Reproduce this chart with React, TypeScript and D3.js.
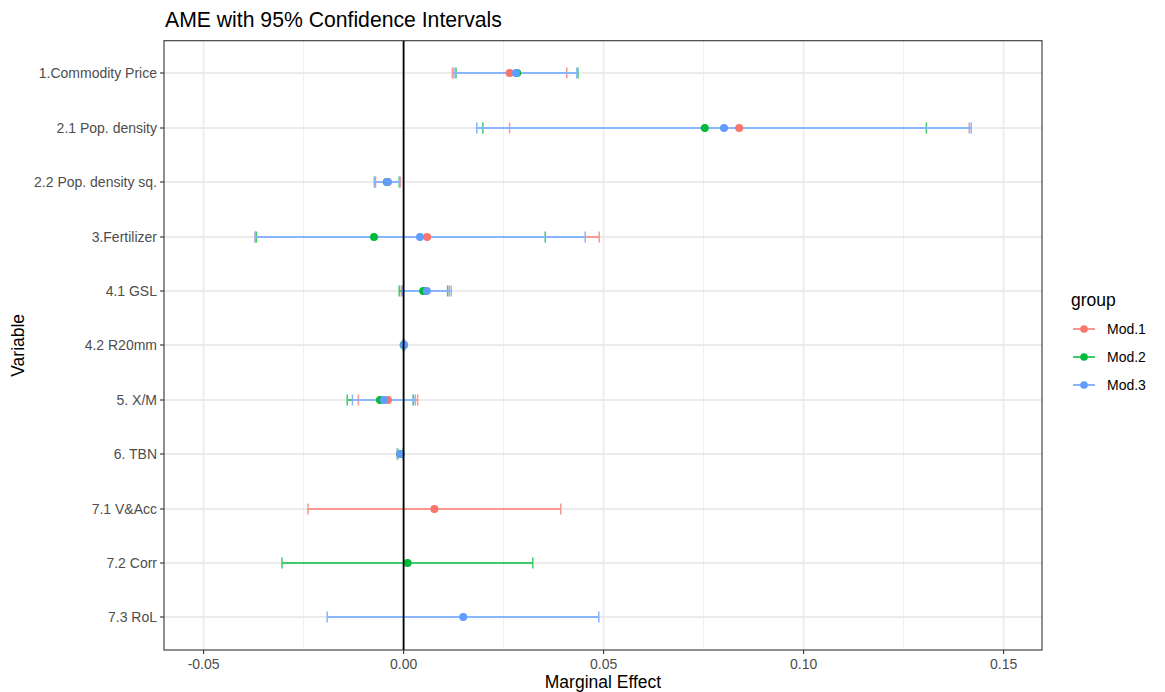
import React from "react";
import * as d3 from "d3";

const categories = [
  "1.Commodity Price",
  "2.1 Pop. density",
  "2.2 Pop. density sq.",
  "3.Fertilizer",
  "4.1 GSL",
  "4.2 R20mm",
  "5. X/M",
  "6. TBN",
  "7.1 V&Acc",
  "7.2 Corr",
  "7.3 RoL",
];

const groups = ["Mod.1", "Mod.2", "Mod.3"];
const groupColors = ["#F8766D", "#00BA38", "#619CFF"];
const barColors = ["#F99790", "#40CB6A", "#89B5FF"];

// estimate, lower, upper per category (null = not in model)
const mod1Est = [0.0265, 0.0839, -0.0039, 0.0059, 0.0054, 0.0001, -0.0039, -0.0008, 0.0077, null, null];
const mod1Lo = [0.0122, 0.0265, -0.007, -0.0371, -0.0006, -0.0001, -0.0113, -0.0015, -0.0239, null, null];
const mod1Hi = [0.0408, 0.1414, -0.0008, 0.0489, 0.0114, 0.0003, 0.0035, -0.0001, 0.0393, null, null];

const mod2Est = [0.0284, 0.0753, -0.0042, -0.0074, 0.0049, 0.0, -0.0059, -0.0008, null, 0.001, null];
const mod2Lo = [0.0131, 0.0198, -0.0073, -0.0368, -0.0011, -0.0002, -0.0141, -0.0015, null, -0.0304, null];
const mod2Hi = [0.0436, 0.1307, -0.0011, 0.0354, 0.011, 0.0002, 0.0024, -0.0001, null, 0.0323, null];

const mod3Est = [0.0281, 0.0801, -0.0041, 0.0041, 0.0058, 0.0001, -0.0049, -0.0008, null, null, 0.0149];
const mod3Lo = [0.0126, 0.0183, -0.0072, -0.0371, -0.0003, -0.0001, -0.0128, -0.0016, null, null, -0.0191];
const mod3Hi = [0.0433, 0.1419, -0.001, 0.0454, 0.0119, 0.0002, 0.0029, -0.0001, null, null, 0.0488];

const xTicks = [-0.05, 0, 0.05, 0.1, 0.15];
const xTickLabels = ["-0.05", "0.00", "0.05", "0.10", "0.15"];
const xMinor = [-0.025, 0.025, 0.075, 0.125];

const W = 1165;
const H = 692;
const panel = { left: 164, right: 1042, top: 40.7, bottom: 650 };
const FONT = "'Liberation Sans', Arial, Helvetica, sans-serif";

export default function App() {
  const x = d3.scaleLinear().domain([-0.0599, 0.1596]).range([panel.left, panel.right]);
  const y = d3
    .scalePoint<string>()
    .domain(categories)
    .range([panel.top, panel.bottom])
    .padding(0.6);
  const ys = (c: string) => Math.round(y(c) as number);

  const series = [
    { est: mod1Est, lo: mod1Lo, hi: mod1Hi },
    { est: mod2Est, lo: mod2Lo, hi: mod2Hi },
    { est: mod3Est, lo: mod3Lo, hi: mod3Hi },
  ];

  const cap = 5.5;

  return (
    <svg
      width={W}
      height={H}
      style={{ position: "absolute", left: 0, top: 0, background: "#fff" }}
      fontFamily={FONT}
    >
      <rect x={0} y={0} width={W} height={H} fill="#fff" />
      {/* grid */}
      {xMinor.map((t) => (
        <line key={"mn" + t} x1={x(t)} x2={x(t)} y1={panel.top} y2={panel.bottom} stroke="#ebebeb" strokeWidth={0.8} />
      ))}
      {xTicks.map((t) => (
        <line key={"mj" + t} x1={x(t)} x2={x(t)} y1={panel.top} y2={panel.bottom} stroke="#ebebeb" strokeWidth={1.6} />
      ))}
      {categories.map((c) => (
        <line key={"hg" + c} x1={panel.left} x2={panel.right} y1={ys(c)} y2={ys(c)} stroke="#ebebeb" strokeWidth={2} />
      ))}

      {/* error bars */}
      {series.map((s, gi) =>
        categories.map((c, i) => {
          if (s.est[i] === null) return null;
          const yy = ys(c);
          const x1 = x(s.lo[i] as number);
          const x2 = x(s.hi[i] as number);
          return (
            <g key={"eb" + gi + "-" + i} stroke={barColors[gi]} strokeWidth={1.5}>
              <line x1={x1} x2={x2} y1={yy} y2={yy} strokeWidth={2} />
              <line x1={x1} x2={x1} y1={yy - cap} y2={yy + cap} />
              <line x1={x2} x2={x2} y1={yy - cap} y2={yy + cap} />
            </g>
          );
        })
      )}

      {/* points */}
      {series.map((s, gi) =>
        categories.map((c, i) => {
          if (s.est[i] === null) return null;
          return <circle key={"pt" + gi + "-" + i} cx={x(s.est[i] as number)} cy={ys(c)} r={4} fill={groupColors[gi]} />;
        })
      )}

      {/* zero line */}
      <line x1={x(0)} x2={x(0)} y1={panel.top} y2={panel.bottom} stroke="#000" strokeWidth={1.8} />

      {/* panel border */}
      <rect
        x={panel.left}
        y={panel.top}
        width={panel.right - panel.left}
        height={panel.bottom - panel.top}
        fill="none"
        stroke="#333333"
        strokeWidth={1.1}
      />

      {/* y axis */}
      {categories.map((c) => (
        <g key={"yl" + c}>
          <line x1={panel.left - 4} x2={panel.left} y1={ys(c)} y2={ys(c)} stroke="#333333" strokeWidth={1.1} />
          <text x={panel.left - 7} y={ys(c) + 5} textAnchor="end" fontSize={14} fill="#4d4d4d">
            {c}
          </text>
        </g>
      ))}

      {/* x axis */}
      {xTicks.map((t, i) => (
        <g key={"xl" + t}>
          <line x1={x(t)} x2={x(t)} y1={panel.bottom} y2={panel.bottom + 4} stroke="#333333" strokeWidth={1.1} />
          <text x={x(t)} y={panel.bottom + 19} textAnchor="middle" fontSize={14} fill="#4d4d4d">
            {xTickLabels[i]}
          </text>
        </g>
      ))}

      <text x={(panel.left + panel.right) / 2} y={688} textAnchor="middle" fontSize={17.5} fill="#000">
        Marginal Effect
      </text>
      <text
        transform={`translate(24, ${(panel.top + panel.bottom) / 2}) rotate(-90)`}
        textAnchor="middle"
        fontSize={17.5}
        fill="#000"
      >
        Variable
      </text>

      <text x={165} y={27} fontSize={21.2} fill="#000">
        AME with 95% Confidence Intervals
      </text>

      {/* legend */}
      <text x={1071} y={306} fontSize={17.5} fill="#000">
        group
      </text>
      {groups.map((g, i) => {
        const ly = 329 + i * 28;
        return (
          <g key={"lg" + g}>
            <line x1={1073} x2={1095} y1={ly} y2={ly} stroke={barColors[i]} strokeWidth={2} />
            <circle cx={1084} cy={ly} r={3.8} fill={groupColors[i]} />
            <text x={1107} y={ly + 5} fontSize={14} fill="#000">
              {g}
            </text>
          </g>
        );
      })}
    </svg>
  );
}
